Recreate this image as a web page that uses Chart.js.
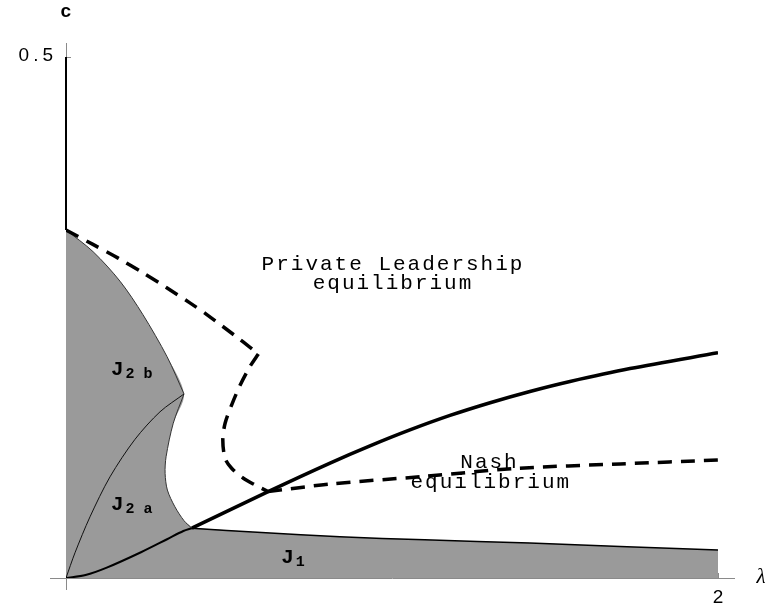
<!DOCTYPE html>
<html><head><meta charset="utf-8">
<script src="https://cdn.jsdelivr.net/npm/chart.js@4.4.0/dist/chart.umd.min.js"></script>
<style>html,body{margin:0;padding:0;background:#fff;}#wrap{width:768px;height:610px;}</style>
</head><body><div id="wrap"><canvas id="c" width="768" height="610"></canvas></div>
<script>
// ---- axes / ticks ----
const xTicks = [2];
const xTickLabels = ['2'];
const yTicks = [0.5];
const yTickLabels = ['0.5'];
const xTitle = 'λ';
const yTitle = 'c';

// ---- region boundaries (λ, c) ----
const j2bEdgeX = [0, 0.083, 0.166, 0.236, 0.310, 0.362];
const j2bEdgeC = [0.334, 0.3132, 0.2847, 0.2527, 0.2124, 0.1766];

const dividerX = [0, 0.0276, 0.0736, 0.135, 0.2117, 0.2883, 0.362];
const dividerC = [0, 0.0242, 0.0587, 0.0971, 0.1331, 0.1595, 0.1766];

const j2aEdgeX = [0.362, 0.329, 0.307, 0.304, 0.311, 0.334, 0.362, 0.386];
const j2aEdgeC = [0.1766, 0.1485, 0.1164, 0.1004, 0.0844, 0.0684, 0.055, 0.0478];

const j2aBottomX = [0, 0.06, 0.125, 0.23, 0.31, 0.36, 0.386];
const j2aBottomC = [0, 0.0028, 0.0099, 0.0247, 0.0372, 0.0451, 0.0478];

const j1TopX = [0.386, 0.6, 0.84, 1.1, 1.423, 1.7, 2];
const j1TopC = [0.0478, 0.0436, 0.0395, 0.0366, 0.0335, 0.0302, 0.0269];

// ---- equilibrium curves ----
const plAxisX = [0, 0];
const plAxisC = [0.334, 0.5];

const solidX = [0.386, 0.62, 0.81, 0.9325, 1.055, 1.178, 1.301, 1.423, 1.546, 1.73, 2];
const solidC = [0.0478, 0.0829, 0.1103, 0.1268, 0.1421, 0.1560, 0.1682, 0.1790, 0.1886, 0.2010, 0.2161];

const plUpperX = [0, 0.084, 0.16, 0.237, 0.309, 0.38, 0.432, 0.534, 0.59];
const plUpperC = [0.334, 0.3199, 0.3070, 0.2927, 0.2786, 0.2640, 0.2528, 0.2288, 0.215];

const plLowerX = [0.59, 0.564, 0.534, 0.508, 0.488, 0.481, 0.488, 0.508, 0.544, 0.58, 0.62];
const plLowerC = [0.215, 0.2028, 0.185, 0.166, 0.1485, 0.1324, 0.1149, 0.1053, 0.0957, 0.0893, 0.0829];

const nashX = [0.62, 0.81, 1.1, 1.382, 1.7, 2];
const nashC = [0.0829, 0.0902, 0.0975, 0.1052, 0.1095, 0.1132];

// ---- annotations ----
const regionLabels = [
  {main: 'J', sub: '2 b', x: 0.141, c: 0.195},
  {main: 'J', sub: '2 a', x: 0.141, c: 0.065},
  {main: 'J', sub: '1', x: 0.663, c: 0.0144}
];
const textLabels = [
  {text: 'Private Leadership', x: 1.0, c: 0.2956},
  {text: 'equilibrium', x: 1.0, c: 0.2774},
  {text: 'Nash', x: 1.296, c: 0.1056},
  {text: 'equilibrium', x: 1.30, c: 0.0864}
];

const pts = (xs, cs) => xs.map((x, i) => ({x: x, y: cs[i]}));

// left (J2a + J2b) region, closed along the c-axis
const leftRegionPts = pts(j2bEdgeX, j2bEdgeC)
  .concat(pts(j2aEdgeX, j2aEdgeC).slice(1))
  .concat(pts(j2aBottomX, j2aBottomC).reverse().slice(1));
// J1 region: under the J2a bottom and J1 top curves
const j1RegionPts = pts(j2aBottomX, j2aBottomC).concat(pts(j1TopX, j1TopC).slice(1));

const T = 0.3;
const GRAY = '#9a9a9a';
const base = {showLine: true, pointRadius: 0, pointHoverRadius: 0, tension: T, fill: false};

// first dataset is drawn on top, last at the bottom
const datasets = [
  Object.assign({}, base, {label: 'Solid', data: pts(solidX, solidC), borderColor: '#000', borderWidth: 3.5}),
  Object.assign({}, base, {label: 'PL upper', data: pts(plUpperX, plUpperC), borderColor: '#000', borderWidth: 3.5, borderDash: [14, 9]}),
  Object.assign({}, base, {label: 'PL lower', data: pts(plLowerX, plLowerC), borderColor: '#000', borderWidth: 3.5, borderDash: [14, 9]}),
  Object.assign({}, base, {label: 'Nash', data: pts(nashX, nashC), borderColor: '#000', borderWidth: 3.5, borderDash: [14, 9]}),
  Object.assign({}, base, {label: 'PL axis', data: pts(plAxisX, plAxisC), borderColor: '#000', borderWidth: 2, tension: 0, clip: false}),
  Object.assign({}, base, {label: 'J2a bottom', data: pts(j2aBottomX, j2aBottomC), borderColor: '#000', borderWidth: 2}),
  Object.assign({}, base, {label: 'J1 top', data: pts(j1TopX, j1TopC), borderColor: '#000', borderWidth: 1.5}),
  Object.assign({}, base, {label: 'J2b edge', data: pts(j2bEdgeX, j2bEdgeC), borderColor: '#333', borderWidth: 1}),
  Object.assign({}, base, {label: 'J2a/J2b', data: pts(dividerX, dividerC), borderColor: '#111', borderWidth: 1}),
  Object.assign({}, base, {label: 'J2a edge', data: pts(j2aEdgeX, j2aEdgeC), borderColor: '#333', borderWidth: 1}),
  Object.assign({}, base, {label: 'J1 region', data: j1RegionPts, borderWidth: 0, borderColor: 'rgba(0,0,0,0)', backgroundColor: GRAY, fill: 'origin'}),
  Object.assign({}, base, {label: 'J2 region', data: leftRegionPts, borderWidth: 0, borderColor: 'rgba(0,0,0,0)', backgroundColor: GRAY, fill: 'shape'})
];

const overlay = {
  id: 'overlay',
  beforeDatasetsDraw(chart) {
    const {ctx, scales: {x, y}} = chart;
    const x0 = x.getPixelForValue(0), y0 = y.getPixelForValue(0);
    ctx.save();
    ctx.strokeStyle = '#8a8a8a';
    ctx.lineWidth = 1;
    ctx.beginPath();
    ctx.moveTo(x0 - 16, y0 + 0.5);
    ctx.lineTo(x.getPixelForValue(xTicks[xTicks.length - 1]) + 17, y0 + 0.5);
    ctx.moveTo(x0 + 0.5, y0 + 12);
    ctx.lineTo(x0 + 0.5, y.getPixelForValue(yTicks[yTicks.length - 1]) - 14);
    yTicks.forEach(v => { const py = Math.round(y.getPixelForValue(v)) + 0.5; ctx.moveTo(x0, py); ctx.lineTo(x0 + 5, py); });
    xTicks.forEach(v => { const px = Math.round(x.getPixelForValue(v)) + 0.5; ctx.moveTo(px, y0); ctx.lineTo(px, y0 - 5); });
    ctx.stroke();
    ctx.restore();
  },
  afterDatasetsDraw(chart) {
    const {ctx, scales: {x, y}} = chart;
    const x0 = x.getPixelForValue(0), y0 = y.getPixelForValue(0);
    ctx.save();
    ctx.fillStyle = '#000';
    // tick labels
    ctx.font = '19px "Liberation Sans"';
    ctx.letterSpacing = '4px';
    ctx.textAlign = 'right';
    ctx.textBaseline = 'middle';
    yTicks.forEach((v, i) => ctx.fillText(yTickLabels[i], x0 - 9, y.getPixelForValue(v) - 1));
    ctx.letterSpacing = '0px';
    ctx.textAlign = 'center';
    xTicks.forEach((v, i) => ctx.fillText(xTickLabels[i], x.getPixelForValue(v), y0 + 20));
    // axis titles
    ctx.font = 'bold 19px "Liberation Mono"';
    ctx.fillText(yTitle, x0, 12);
    ctx.font = 'italic 21px "Liberation Serif"';
    ctx.fillText(xTitle, x.getPixelForValue(2) + 43, y0 - 1);
    // annotations
    ctx.font = '21px "Liberation Mono"';
    ctx.letterSpacing = '2px';
    ctx.textBaseline = 'alphabetic';
    textLabels.forEach(t => ctx.fillText(t.text, x.getPixelForValue(t.x) + 1, y.getPixelForValue(t.c)));
    ctx.letterSpacing = '0px';
    ctx.textAlign = 'left';
    regionLabels.forEach(r => {
      const px = x.getPixelForValue(r.x), py = y.getPixelForValue(r.c);
      ctx.font = 'bold 21px "Liberation Mono"';
      ctx.fillText(r.main, px - 1, py);
      const w = ctx.measureText(r.main).width;
      ctx.font = 'bold 15px "Liberation Mono"';
      ctx.fillText(r.sub, px + w + 1, py + 3);
    });
    ctx.restore();
  }
};

new Chart(document.getElementById('c'), {
  type: 'scatter',
  data: {datasets: datasets},
  options: {
    responsive: false,
    animation: false,
    events: [],
    layout: {padding: {left: 66, right: 50, top: 57, bottom: 32}},
    plugins: {legend: {display: false}, tooltip: {enabled: false}},
    scales: {
      x: {type: 'linear', min: 0, max: 2, display: false},
      y: {type: 'linear', min: 0, max: 0.5, display: false}
    }
  },
  plugins: [overlay]
});
</script>
</body></html>
